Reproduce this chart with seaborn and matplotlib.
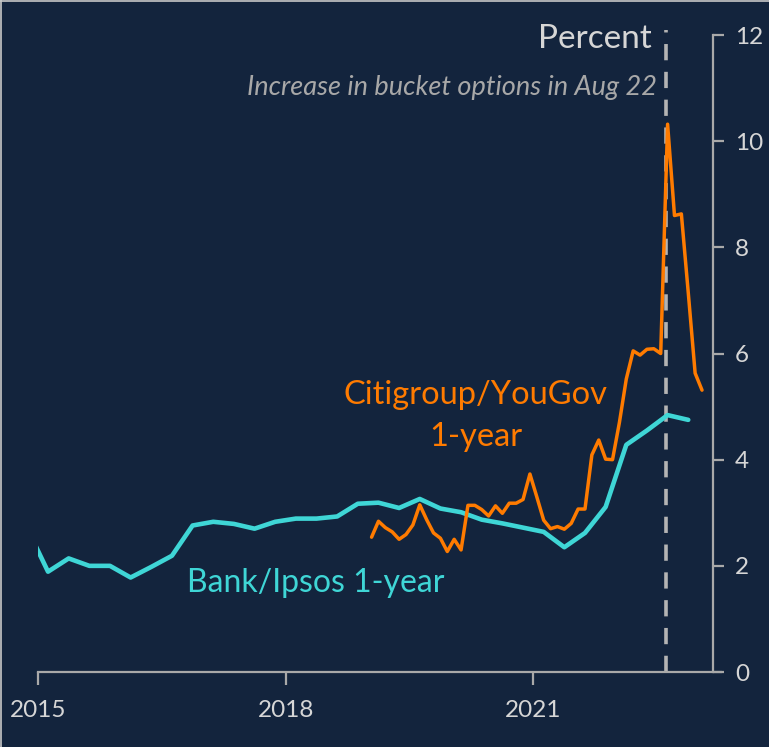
import numpy as np
import pandas as pd
import matplotlib
matplotlib.use("Agg")
import matplotlib.pyplot as plt
from matplotlib.lines import Line2D
import seaborn as sns

# ---------------- data ----------------
# Bank/Ipsos 1-year inflation expectations (quarterly: Feb/May/Aug/Nov)
bank_periods = pd.period_range("2014-11", "2022-11", freq="3M")
bank_values = [2.70, 1.89, 2.14, 2.00, 2.00, 1.78, 1.98, 2.19, 2.76, 2.83,
               2.79, 2.70, 2.83, 2.89, 2.89, 2.93, 3.17, 3.19, 3.09, 3.26,
               3.08, 3.01, 2.87, 2.80, 2.72, 2.64, 2.35, 2.62, 3.11, 4.28,
               4.55, 4.84, 4.75]

# Citigroup/YouGov 1-year inflation expectations (monthly)
citi_periods = pd.period_range("2019-01", "2023-01", freq="M")
citi_values = [2.54, 2.84, 2.72, 2.64, 2.50, 2.59, 2.77, 3.15, 2.87, 2.62,
               2.52, 2.27, 2.50, 2.30, 3.14, 3.14, 3.06, 2.94, 3.13, 2.99,
               3.18, 3.18, 3.25, 3.73, 3.30, 2.86, 2.70, 2.74, 2.69, 2.80,
               3.07, 3.07, 4.09, 4.37, 4.01, 4.00, 4.70, 5.52, 6.05, 5.97,
               6.08, 6.09, 6.00, 10.32, 8.60, 8.63, 7.15, 5.63, 5.31]

x_ticks = [2015, 2018, 2021]
x_tick_labels = ["2015", "2018", "2021"]
y_ticks = [0, 2, 4, 6, 8, 10, 12]
event_x = 2022.61  # Aug 22


def to_year(periods):
    return np.array([p.year + (p.month - 1) / 12 + 0.04 for p in periods])


bank = pd.DataFrame({"x": to_year(bank_periods), "y": bank_values})
citi = pd.DataFrame({"x": to_year(citi_periods), "y": citi_values})

# ---------------- style ----------------
BG = "#13243d"
AXC = "#a9a9a9"
TXT = "#d6d6d6"
ORANGE = "#ff7b00"
CYAN = "#3fd6d6"

sns.set_theme(style="white")
plt.rcParams["font.family"] = ["Lato", "DejaVu Sans"]

fig = plt.figure(figsize=(7.69, 7.47), dpi=100, facecolor=BG)
ax = fig.add_axes([0.0492, 0.1004, 0.8884, 0.8527])
ax.set_facecolor(BG)

sns.lineplot(data=bank, x="x", y="y", ax=ax, color=CYAN, linewidth=3.3)
sns.lineplot(data=citi, x="x", y="y", ax=ax, color=ORANGE, linewidth=2.5)

ax.set_xlim(2015.0, 2023.27)
ax.set_ylim(0, 12)

# dashed event line
ax.plot([event_x, event_x], [0, 12.1], color="#b4b4b4", linewidth=2.6,
        linestyle=(0, (4.5, 3.2)), clip_on=False, zorder=1)

# spines
for s in ["left", "top"]:
    ax.spines[s].set_visible(False)
ax.spines["bottom"].set_color(AXC)
ax.spines["bottom"].set_linewidth(1.6)
ax.spines["right"].set_color(AXC)
ax.spines["right"].set_linewidth(1.6)
ax.spines["right"].set_position(("data", 2023.17))

ax.yaxis.tick_right()
ax.set_yticks(y_ticks)
ax.set_yticklabels([str(v) for v in y_ticks])
ax.set_xticks(x_ticks)
ax.set_xticklabels(x_tick_labels)
ax.tick_params(axis="x", direction="out", length=9, width=1.6, color=AXC,
               labelcolor=TXT, labelsize=17.5, pad=11, bottom=True)
ax.tick_params(axis="y", direction="out", length=8, width=1.6, color=AXC,
               labelcolor=TXT, labelsize=17.5, pad=8, right=True, left=False)
ax.set_xlabel("")
ax.set_ylabel("")
ax.grid(False)

# texts
ax.text(2022.43, 11.92, "Percent", color=TXT, fontsize=24, ha="right",
        va="center")
ax.text(2022.5, 11.02, "Increase in bucket options in Aug 22", color="#a8a8a8",
        fontsize=19.5, ha="right", va="center", style="italic")
ax.text(2020.3, 5.22, "Citigroup/YouGov", color=ORANGE, fontsize=23.5,
        ha="center", va="center")
ax.text(2020.3, 4.43, "1-year", color=ORANGE, fontsize=23.5,
        ha="center", va="center")
ax.text(2018.37, 1.68, "Bank/Ipsos 1-year", color=CYAN, fontsize=23,
        ha="center", va="center")

# thin frame edges (top and left) as in the reference
fig.add_artist(Line2D([0, 1], [0.999, 0.999], color="#c8c8c8", linewidth=1.2,
                      transform=fig.transFigure))
fig.add_artist(Line2D([0.001, 0.001], [0, 1], color="#c8c8c8", linewidth=1.2,
                      transform=fig.transFigure))

fig.savefig("out.png", dpi=100, facecolor=BG)
